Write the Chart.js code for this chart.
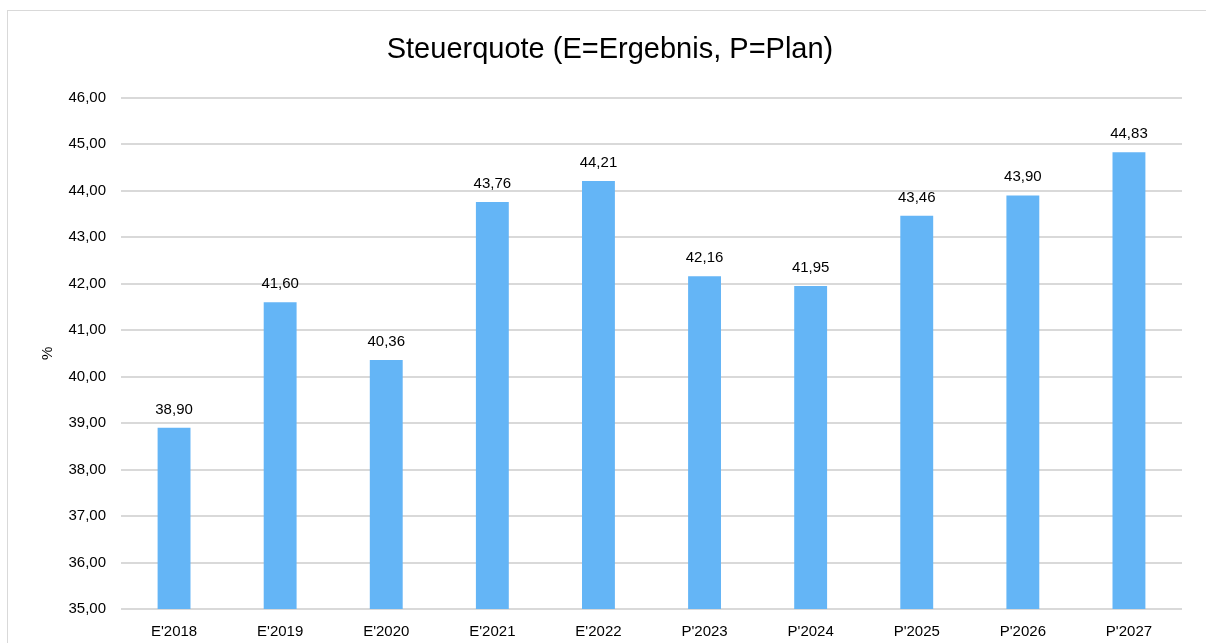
<!DOCTYPE html>
<html>
<head>
<meta charset="utf-8">
<script src="https://cdn.jsdelivr.net/npm/chart.js@4"></script>
<style>
  html, body { margin: 0; padding: 0; background: #fff; }
  #wrap { position: relative; width: 1206px; height: 643px; overflow: hidden; }
  #frame { position: absolute; left: 7px; top: 10px; width: 1300px; height: 700px;
           border-left: 1px solid #d9d9d9; border-top: 1px solid #d9d9d9; box-sizing: border-box; }
  canvas { position: absolute; left: 0; top: 0; }
</style>
</head>
<body>
<div id="wrap">
  <div id="frame"></div>
  <canvas id="c" width="1206" height="643"></canvas>
</div>
<script>
const categories = ["E'2018", "E'2019", "E'2020", "E'2021", "E'2022", "P'2023", "P'2024", "P'2025", "P'2026", "P'2027"];
const steuerquote = [38.90, 41.60, 40.36, 43.76, 44.21, 42.16, 41.95, 43.46, 43.90, 44.83];
const yTicks = [35, 36, 37, 38, 39, 40, 41, 42, 43, 44, 45, 46];

const FONT = "'Liberation Sans', Arial, Helvetica, sans-serif";
const fmt = v => Number(v).toFixed(2).replace('.', ',');

const valueLabels = {
  id: 'valueLabels',
  afterDatasetsDraw(chart) {
    const ctx = chart.ctx;
    const meta = chart.getDatasetMeta(0);
    ctx.save();
    ctx.font = '15px ' + FONT;
    ctx.fillStyle = '#000';
    ctx.textAlign = 'center';
    ctx.textBaseline = 'alphabetic';
    meta.data.forEach((bar, i) => {
      ctx.fillText(fmt(chart.data.datasets[0].data[i]), bar.x, bar.y - 14);
    });
    ctx.restore();
  }
};

new Chart(document.getElementById('c'), {
  type: 'bar',
  data: {
    labels: categories,
    datasets: [{
      data: steuerquote,
      backgroundColor: '#64B5F6',
      borderWidth: 0,
      categoryPercentage: 1,
      barPercentage: 0.31
    }]
  },
  options: {
    responsive: false,
    animation: false,
    devicePixelRatio: 1,
    layout: { padding: { left: 38, right: 24, top: 18, bottom: 0 } },
    plugins: {
      legend: { display: false },
      tooltip: { enabled: false },
      title: {
        display: true,
        text: 'Steuerquote (E=Ergebnis, P=Plan)',
        color: '#000',
        font: { family: FONT, size: 29, weight: 'normal' },
        padding: { top: 15, bottom: 30 }
      }
    },
    scales: {
      x: {
        grid: { display: false },
        border: { display: false },
        ticks: { color: '#000', font: { family: FONT, size: 15 }, padding: 6, maxRotation: 0 },
        afterFit(scale) { scale.height = 34; }
      },
      y: {
        min: 35,
        max: 46,
        afterBuildTicks(scale) { scale.ticks = yTicks.map(v => ({ value: v })); },
        grid: { color: '#d9d9d9', lineWidth: 2, drawTicks: false },
        border: { display: false },
        ticks: { color: '#000', font: { family: FONT, size: 15 }, padding: 15, callback: v => fmt(v) },
        title: { display: true, text: '%', color: '#000', font: { family: FONT, size: 15 }, padding: { top: 1, bottom: 0 } },
        afterFit(scale) { scale.width = 83; }
      }
    }
  },
  plugins: [valueLabels]
});
</script>
</body>
</html>
